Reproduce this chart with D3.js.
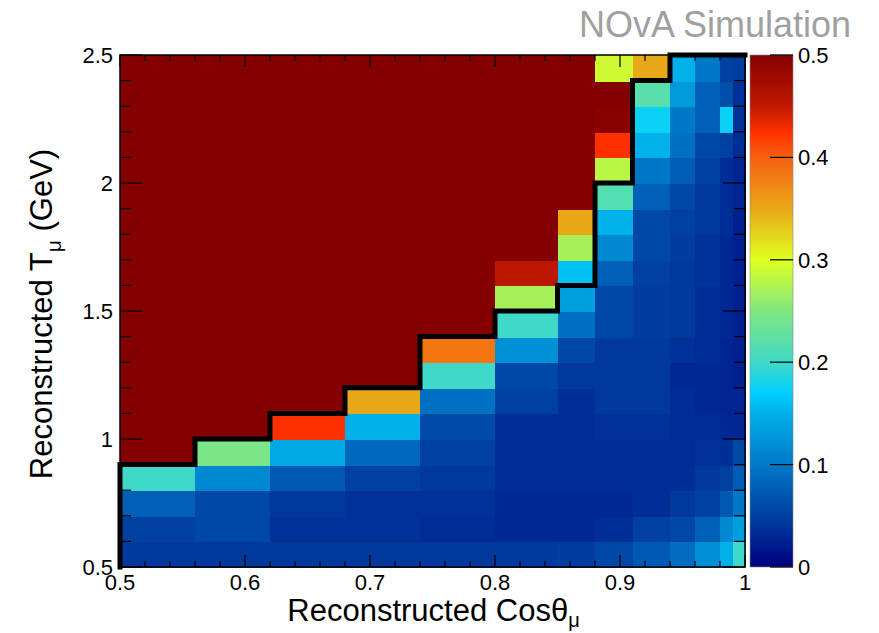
<!DOCTYPE html>
<html><head><meta charset="utf-8">
<script src="https://cdn.jsdelivr.net/npm/d3@7"></script>
<style>html,body{margin:0;padding:0;background:#fff;} svg{display:block;font-family:"Liberation Sans",Arial,Helvetica,sans-serif;}</style>
</head><body><svg id="chart" width="879" height="633"></svg>
<script>
// ---- data ----
const xEdges = [0.5,0.56,0.62,0.68,0.74,0.80,0.85,0.88,0.91,0.94,0.96,0.98,0.99,1.0];
const yEdges = [0.5,0.6,0.7,0.8,0.9,1.0,1.1,1.2,1.3,1.4,1.5,1.6,1.7,1.8,1.9,2.0,2.1,2.2,2.3,2.4,2.5];
// one row per T bin (bottom to top), one value per cos bin (left to right)
const zRows = [
  [.044,.044,.044,.044,.044,.045,.048,.057,.072,.090,.120,.150,.200],
  [.050,.057,.038,.038,.034,.031,.031,.036,.050,.057,.079,.114,.136],
  [.079,.057,.044,.038,.038,.031,.031,.031,.036,.044,.050,.071,.100],
  [.200,.114,.071,.050,.044,.034,.034,.034,.034,.036,.044,.050,.075],
  [.500,.245,.143,.086,.050,.034,.034,.034,.034,.034,.038,.036,.057],
  [.500,.500,.425,.150,.060,.036,.034,.038,.038,.034,.034,.031,.030],
  [.500,.500,.500,.350,.093,.050,.036,.044,.044,.034,.031,.028,.028],
  [.500,.500,.500,.500,.200,.057,.044,.044,.044,.031,.031,.028,.025],
  [.500,.500,.500,.500,.385,.121,.057,.044,.044,.038,.034,.028,.025],
  [.500,.500,.500,.500,.500,.200,.093,.057,.048,.044,.034,.031,.025],
  [.500,.500,.500,.500,.500,.270,.136,.057,.048,.044,.034,.031,.025],
  [.500,.500,.500,.500,.500,.455,.160,.079,.050,.044,.038,.031,.025],
  [.500,.500,.500,.500,.500,.500,.270,.114,.057,.048,.038,.031,.025],
  [.500,.500,.500,.500,.500,.500,.350,.150,.057,.050,.044,.034,.025],
  [.500,.500,.500,.500,.500,.500,.500,.215,.079,.057,.044,.034,.028],
  [.500,.500,.500,.500,.500,.500,.500,.280,.100,.075,.050,.034,.028],
  [.500,.500,.500,.500,.500,.500,.500,.425,.150,.093,.057,.050,.034],
  [.500,.500,.500,.500,.500,.500,.500,.495,.175,.100,.079,.175,.038],
  [.500,.500,.500,.500,.500,.500,.500,.500,.220,.130,.079,.064,.038],
  [.500,.500,.500,.500,.500,.500,.500,.290,.350,.150,.100,.050,.048]
];
// upper edge (in T) of the selected region for each cos bin
const contourTop = [0.9,1.0,1.1,1.2,1.4,1.5,1.6,2.0,2.4,2.5,2.5,2.5,2.5];

const xTickValues = [0.5,0.6,0.7,0.8,0.9,1.0];
const xTickLabels = ["0.5","0.6","0.7","0.8","0.9","1"];
const yTickValues = [0.5,1.0,1.5,2.0,2.5];
const yTickLabels = ["0.5","1","1.5","2","2.5"];
const zTickValues = [0,0.1,0.2,0.3,0.4,0.5];
const zTickLabels = ["0","0.1","0.2","0.3","0.4","0.5"];

const paletteValues = [0,0.05,0.10,0.15,0.17,0.20,0.25,0.30,0.35,0.40,0.425,0.45,0.50];
const paletteColors = ["#000080","#0040a0","#0078c8","#00b0e8","#00d0ff","#40d8c8","#80e880","#e0ff20","#e8a818","#f86010","#ff3000","#c01800","#840000"];

// ---- layout ----
const plot = {x0:120, x1:745, y0:55, y1:567};
const svg = d3.select("#chart");

const x = d3.scaleLinear().domain([0.5,1.0]).range([plot.x0, plot.x1]);
const y = d3.scaleLinear().domain([0.5,2.5]).range([plot.y1, plot.y0]);
const color = d3.scaleLinear().domain(paletteValues).range(paletteColors).interpolate(d3.interpolateRgb).clamp(true);

// ---- cells ----
const cells = [];
zRows.forEach((row, j) => row.forEach((v, i) => cells.push({i, j, v})));
svg.append("g").attr("shape-rendering","crispEdges").selectAll("rect").data(cells).join("rect")
  .attr("x", d => Math.round(x(xEdges[d.i])))
  .attr("y", d => Math.round(y(yEdges[d.j+1])))
  .attr("width", d => Math.round(x(xEdges[d.i+1])) - Math.round(x(xEdges[d.i])) + 1)
  .attr("height", d => Math.round(y(yEdges[d.j])) - Math.round(y(yEdges[d.j+1])) + 1)
  .attr("fill", d => color(d.v));

// ---- ticks ----
const tickG = svg.append("g").attr("stroke","#000").attr("stroke-width",1.2);
const xMinor = d3.range(0.5, 1.0001, 0.02);
const yMinor = d3.range(0.5, 2.5001, 0.1);
const isMajorX = v => xTickValues.some(t => Math.abs(t-v) < 1e-6);
const isMajorY = v => yTickValues.some(t => Math.abs(t-v) < 1e-6);
xMinor.forEach(v => {
  const L = isMajorX(v) ? 12 : 6;
  tickG.append("line").attr("x1",x(v)).attr("x2",x(v)).attr("y1",plot.y1).attr("y2",plot.y1-L);
  tickG.append("line").attr("x1",x(v)).attr("x2",x(v)).attr("y1",plot.y0).attr("y2",plot.y0+L);
});
yMinor.forEach(v => {
  const L = isMajorY(v) ? 22 : 11;
  tickG.append("line").attr("x1",plot.x0).attr("x2",plot.x0+L).attr("y1",y(v)).attr("y2",y(v));
  tickG.append("line").attr("x1",plot.x1).attr("x2",plot.x1-L).attr("y1",y(v)).attr("y2",y(v));
});

// frame
svg.append("rect").attr("x",plot.x0).attr("y",plot.y0)
  .attr("width",plot.x1-plot.x0).attr("height",plot.y1-plot.y0)
  .attr("fill","none").attr("stroke","#000").attr("stroke-width",1.5);

// ---- contour ----
const pts = [[xEdges[0], yEdges[0]]];
contourTop.forEach((t, i) => { pts.push([xEdges[i], t]); pts.push([xEdges[i+1], t]); });
svg.append("path")
  .attr("d", d3.line().x(d => x(d[0])).y(d => y(d[1]))(pts))
  .attr("fill","none").attr("stroke","#000").attr("stroke-width",5)
  .attr("stroke-linejoin","miter").attr("stroke-linecap","square");

// ---- tick labels ----
const fs = 22;
svg.append("g").selectAll("text").data(xTickValues).join("text")
  .attr("x", d => x(d)).attr("y", plot.y1 + 23)
  .attr("text-anchor","middle").attr("font-size",fs).text((d,i) => xTickLabels[i]);
svg.append("g").selectAll("text").data(yTickValues).join("text")
  .attr("x", plot.x0 - 7).attr("y", d => y(d) + 8)
  .attr("text-anchor","end").attr("font-size",fs).text((d,i) => yTickLabels[i]);

// ---- axis titles ----
const xt = svg.append("text").attr("x", (plot.x0+plot.x1)/2 + 1).attr("y", 621)
  .attr("text-anchor","middle").attr("font-size",31);
xt.append("tspan").text("Reconstructed Cos\u03b8");
xt.append("tspan").attr("font-size",20).attr("dy",6).text("\u03bc");

const yt = svg.append("text").attr("transform", `translate(52,${(plot.y0+plot.y1)/2 + 3}) rotate(-90)`)
  .attr("text-anchor","middle").attr("font-size",31);
yt.append("tspan").text("Reconstructed T");
yt.append("tspan").attr("font-size",21).attr("dy",9).text("\u03bc");
yt.append("tspan").attr("dy",-9).text(" (GeV)");

// ---- colour bar ----
const cb = {x0:750, x1:793};
const z = d3.scaleLinear().domain([0,0.5]).range([plot.y1, plot.y0]);
const defs = svg.append("defs");
const grad = defs.append("linearGradient").attr("id","pal").attr("x1",0).attr("y1",1).attr("x2",0).attr("y2",0);
d3.range(0, 0.5001, 0.005).forEach(v => grad.append("stop").attr("offset", v/0.5).attr("stop-color", color(v)));
svg.append("rect").attr("x",cb.x0).attr("y",plot.y0).attr("width",cb.x1-cb.x0).attr("height",plot.y1-plot.y0)
  .attr("fill","url(#pal)").attr("stroke","#888").attr("stroke-width",0.6);
svg.append("g").selectAll("line").data(zTickValues).join("line")
  .attr("x1",cb.x1).attr("x2",cb.x1-23).attr("y1",d => z(d)).attr("y2",d => z(d))
  .attr("stroke","#000").attr("stroke-width",1.2);
svg.append("g").selectAll("text").data(zTickValues).join("text")
  .attr("x", cb.x1 + 5).attr("y", d => z(d) + 8)
  .attr("font-size",fs).text((d,i) => zTickLabels[i]);

// ---- label ----
svg.append("text").attr("x",851).attr("y",37).attr("text-anchor","end")
  .attr("font-size",36).attr("fill","#a0a0a0").text("NOvA Simulation");
</script></body></html>
